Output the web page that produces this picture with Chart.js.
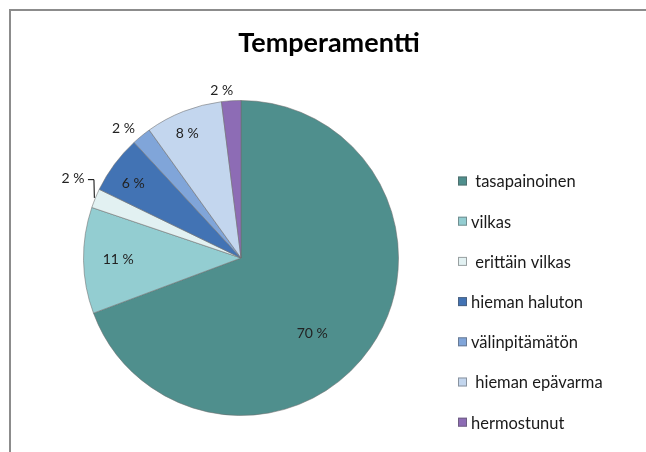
<!DOCTYPE html>
<html>
<head>
<meta charset="utf-8">
<script src="https://cdn.jsdelivr.net/npm/chart.js@4/dist/chart.umd.min.js"></script>
<style>
  html, body { margin: 0; padding: 0; background: #ffffff; }
  #wrap { width: 646px; height: 452px; position: relative; }
</style>
</head>
<body>
<div id="wrap"><canvas id="c" width="646" height="452"></canvas></div>
<script>
const chartTitle = "Temperamentti";
const categories = [" tasapainoinen", "vilkas", " erittäin vilkas", "hieman haluton", "välinpitämätön", " hieman epävarma", "hermostunut"];
const values = [70, 11, 2, 6, 2, 8, 2];
const colors = ["#4F8F8D", "#93CDD1", "#E2F1F2", "#4273B4", "#80A5D9", "#C3D6EE", "#8D6CB5"];
// label placement: radius factor per slice (inside < 1, outside > 1), angle tweak in degrees
const labelRadius = [0.66, 0.78, 1.18, 0.83, 1.11, 0.86, 1.07];
const labelAngleShift = [12, 0, 3, -2, -3, -2, -3];

const overlay = {
  id: 'overlay',
  afterDraw(chart) {
    const ctx = chart.ctx;
    ctx.save();
    // frame
    ctx.strokeStyle = '#8c8c8c';
    ctx.lineWidth = 2;
    ctx.beginPath();
    ctx.moveTo(10, 452);
    ctx.lineTo(10, 10);
    ctx.lineTo(646, 10);
    ctx.stroke();
    // title
    ctx.fillStyle = '#000';
    ctx.font = 'bold 27px Lato, "Open Sans", sans-serif';
    ctx.textAlign = 'center';
    ctx.textBaseline = 'middle';
    ctx.fillText(chartTitle, 329, 43);
    // data labels
    const meta = chart.getDatasetMeta(0);
    ctx.font = '14px Lato, "Open Sans", sans-serif';
    ctx.fillStyle = '#222';
    meta.data.forEach((arc, i) => {
      const mid = (arc.startAngle + arc.endAngle) / 2 + labelAngleShift[i] * Math.PI / 180;
      const r = arc.outerRadius * labelRadius[i];
      const x = arc.x + Math.cos(mid) * r;
      const y = arc.y + Math.sin(mid) * r;
      ctx.fillText(values[i] + ' %', x, y);
      if (labelRadius[i] > 1.15) {
        // leader line
        const ea = (arc.startAngle + arc.endAngle) / 2;
        const ex = arc.x + Math.cos(ea) * (arc.outerRadius + 1);
        const ey = arc.y + Math.sin(ea) * (arc.outerRadius + 1);
        ctx.strokeStyle = '#000';
        ctx.lineWidth = 1;
        ctx.beginPath();
        ctx.moveTo(x + 15, y + 1);
        ctx.lineTo(x + 21, y + 1);
        ctx.lineTo(ex, ey);
        ctx.stroke();
      }
    });
    // legend
    ctx.textAlign = 'left';
    ctx.font = '16.5px Lato, "Open Sans", sans-serif';
    categories.forEach((lab, i) => {
      const y = 181 + i * 40.2;
      ctx.fillStyle = colors[i];
      ctx.fillRect(458, y - 4.5, 9, 9);
      ctx.strokeStyle = 'rgba(80,80,80,0.5)';
      ctx.lineWidth = 1;
      ctx.strokeRect(458.5, y - 4, 8, 8);
      ctx.fillStyle = '#1a1a1a';
      ctx.fillText(lab, 471, y + 1);
    });
    ctx.restore();
  }
};

new Chart(document.getElementById('c'), {
  type: 'pie',
  data: {
    labels: categories,
    datasets: [{
      data: values,
      backgroundColor: colors,
      borderColor: 'rgba(110,110,110,0.55)',
      borderWidth: 1
    }]
  },
  options: {
    responsive: false,
    animation: false,
    layout: { padding: { left: 83, right: 247, top: 100, bottom: 36 } },
    plugins: {
      legend: { display: false },
      title: { display: false },
      tooltip: { enabled: false }
    }
  },
  plugins: [overlay]
});
</script>
</body>
</html>
